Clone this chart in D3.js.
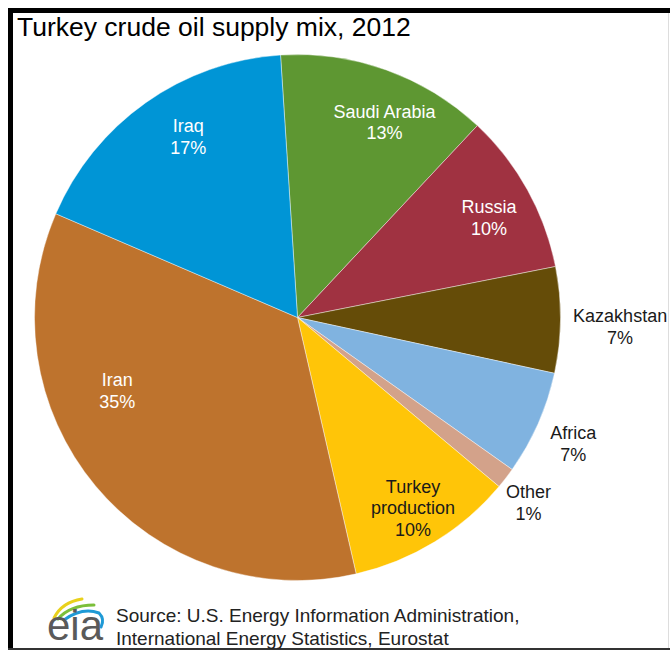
<!DOCTYPE html>
<html>
<head>
<meta charset="utf-8">
<script src="https://cdn.jsdelivr.net/npm/d3@7/dist/d3.min.js"></script>
<style>
  html, body { margin: 0; padding: 0; background: #fff; }
  svg { display: block; }
  text { font-family: "Liberation Sans", Arial, sans-serif; }
</style>
</head>
<body>
<svg id="chart" width="670" height="650"></svg>
<script>
// ---- data ----
const title = "Turkey crude oil supply mix, 2012";
const categories = ["Saudi Arabia", "Russia", "Kazakhstan", "Africa", "Other", "Turkey production", "Iran", "Iraq"];
const shares = [13.0, 9.9, 6.5, 6.4, 1.3, 10.3, 35.0, 17.5];
const shareLabels = ["13%", "10%", "7%", "7%", "1%", "10%", "35%", "17%"];
const sourceLines = ["Source: U.S. Energy Information Administration,", "International Energy Statistics, Eurostat"];

// ---- styling ----
const colors = ["#5E9732", "#A03241", "#654C08", "#80B3E0", "#D3A28A", "#FFC508", "#BE732D", "#0095D6"];
const labelColors = ["#fff", "#fff", "#1a1a1a", "#1a1a1a", "#1a1a1a", "#1a1a1a", "#fff", "#fff"];
// label placement: distance from centre and angular nudge (degrees) from slice middle
const labelRadius = [208, 213, 323, 306, 300, 228, 197, 206];
const labelNudge = [5, 3, 2.2, 1.9, 2, 1, 16, 3.2];
const lineBreaks = { "Turkey production": ["Turkey", "production"] };

const svg = d3.select("#chart");
const W = 670, H = 650;
const cx = 297.5, cy = 317.5, R = 263;
const startAngle = -3.7 * Math.PI / 180;

// frame
svg.append("line").attr("x1", 8).attr("x2", W).attr("y1", 10.5).attr("y2", 10.5)
  .attr("stroke", "#000").attr("stroke-width", 5);
svg.append("line").attr("x1", 10.5).attr("x2", 10.5).attr("y1", 8).attr("y2", H)
  .attr("stroke", "#000").attr("stroke-width", 5);
svg.append("line").attr("x1", W - 1.5).attr("x2", W - 1.5).attr("y1", 13).attr("y2", H)
  .attr("stroke", "#ddd").attr("stroke-width", 1);
svg.append("line").attr("x1", 8).attr("x2", W).attr("y1", H - 1).attr("y2", H - 1)
  .attr("stroke", "#333").attr("stroke-width", 2);

// title
svg.append("text").attr("x", 17).attr("y", 35.5)
  .attr("font-size", 26.5).attr("fill", "#000").text(title);

// pie
const data = categories.map((c, i) => ({ name: c, value: shares[i], label: shareLabels[i], i }));
const pie = d3.pie().value(d => d.value).sort(null)
  .startAngle(startAngle).endAngle(startAngle + 2 * Math.PI);
const arcs = pie(data);
const arc = d3.arc().innerRadius(0).outerRadius(R);

const g = svg.append("g").attr("transform", `translate(${cx},${cy})`);
g.selectAll("path").data(arcs).join("path")
  .attr("d", arc)
  .attr("fill", d => colors[d.data.i])
  .attr("stroke", "#fff")
  .attr("stroke-width", 0.6)
  .attr("stroke-opacity", 0.7);

// labels
const lineH = 21.5;
arcs.forEach(a => {
  const i = a.data.i;
  const mid = (a.startAngle + a.endAngle) / 2 + labelNudge[i] * Math.PI / 180;
  const r = labelRadius[i];
  const x = Math.sin(mid) * r;
  const y = -Math.cos(mid) * r;
  const lines = (lineBreaks[a.data.name] || [a.data.name]).concat([a.data.label]);
  const n = lines.length;
  const t = g.append("text")
    .attr("text-anchor", "middle")
    .attr("font-size", 18)
    .attr("fill", labelColors[i]);
  lines.forEach((ln, k) => {
    t.append("tspan").attr("x", x)
      .attr("y", y + (k - (n - 1) / 2) * lineH)
      .text(ln);
  });
});

// source
const src = svg.append("text").attr("font-size", 19).attr("fill", "#222");
sourceLines.forEach((s, k) => {
  src.append("tspan").attr("x", 116).attr("y", 622 + k * 22.5).text(s);
});

// eia logo
const logo = svg.append("g");
logo.append("path").attr("d", "M54,618 Q62,602 82,599")
  .attr("fill", "none").attr("stroke", "#E9D11B").attr("stroke-width", 3).attr("stroke-linecap", "round");
logo.append("path").attr("d", "M58,619 Q70,605 94,605")
  .attr("fill", "none").attr("stroke", "#7BBF3A").attr("stroke-width", 3).attr("stroke-linecap", "round");
logo.append("path").attr("d", "M64,620 Q82,607 99,613 Q105,619 101,627")
  .attr("fill", "none").attr("stroke", "#1E9AD6").attr("stroke-width", 3).attr("stroke-linecap", "round");
logo.append("text").attr("x", 47).attr("y", 640)
  .attr("font-family", "'Liberation Serif', 'Times New Roman', serif")
  .attr("font-size", 42).attr("fill", "#5a5a5a")
  .text("eia");
</script>
</body>
</html>
